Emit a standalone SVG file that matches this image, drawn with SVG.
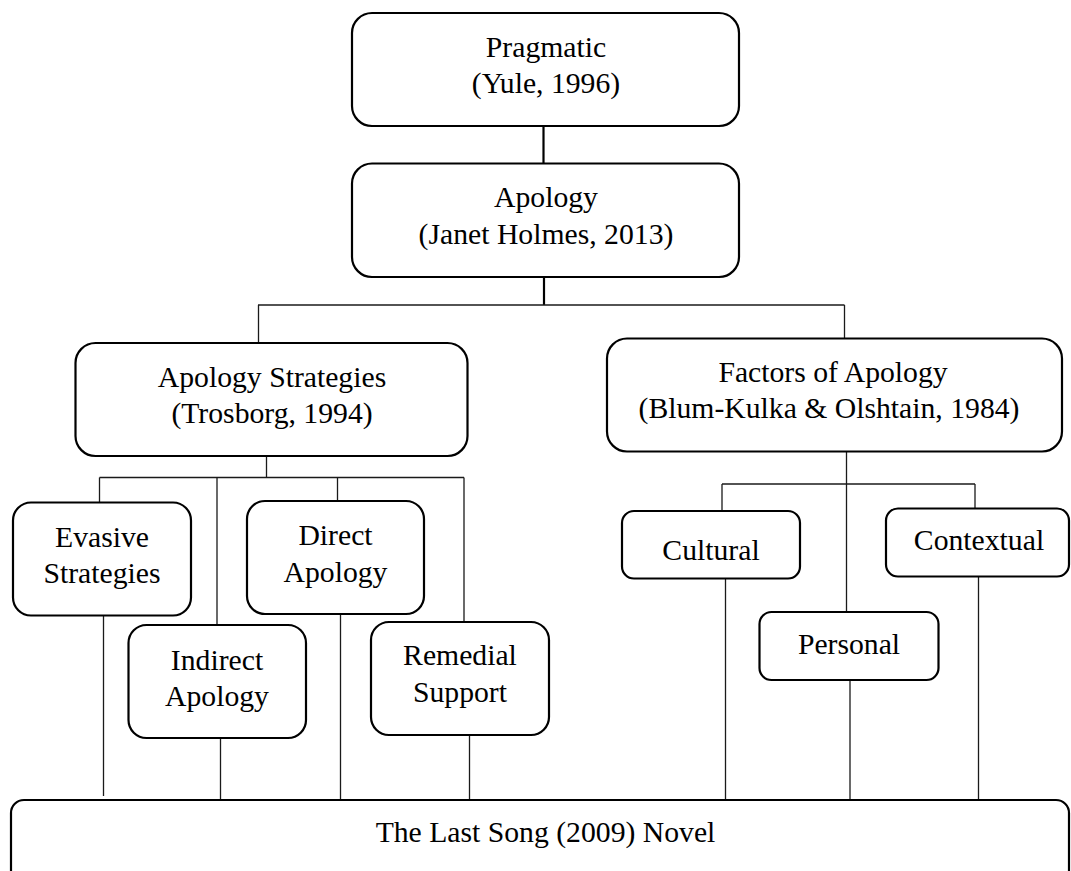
<svg xmlns="http://www.w3.org/2000/svg" width="1071" height="871" viewBox="0 0 1071 871">
<style>
  .box { fill: #fff; stroke: #000; stroke-width: 2.2; }
  .t { font-family: "Liberation Serif", "Times New Roman", serif; font-size: 29.7px; fill: #000; text-anchor: middle; }
  .c { stroke: #1a1a1a; stroke-width: 1.3; fill: none; }
  .ct { stroke: #000; stroke-width: 2.2; fill: none; }
</style>
<rect width="1071" height="871" fill="#fff"/>
<g id="connectors">
  <line class="ct" x1="543.5" y1="126" x2="543.5" y2="163"/>
  <line class="ct" x1="544" y1="277" x2="544" y2="305"/>
  <line class="c" x1="258" y1="305" x2="844.5" y2="305"/>
  <line class="c" x1="258.5" y1="305" x2="258.5" y2="343"/>
  <line class="c" x1="844.5" y1="305" x2="844.5" y2="338"/>
  <line class="c" x1="266.5" y1="456" x2="266.5" y2="477.5"/>
  <line class="c" x1="99.5" y1="477.5" x2="464" y2="477.5"/>
  <line class="c" x1="99.5" y1="477.5" x2="99.5" y2="502"/>
  <line class="c" x1="217" y1="477.5" x2="217" y2="625"/>
  <line class="c" x1="337.5" y1="477.5" x2="337.5" y2="501"/>
  <line class="c" x1="464" y1="477.5" x2="464" y2="622"/>
  <line class="c" x1="846.5" y1="452" x2="846.5" y2="612"/>
  <line class="c" x1="722" y1="484" x2="975" y2="484"/>
  <line class="c" x1="722" y1="484" x2="722" y2="511"/>
  <line class="c" x1="975" y1="484" x2="975" y2="508"/>
  <line class="c" x1="103.5" y1="616" x2="103.5" y2="796"/>
  <line class="c" x1="220.5" y1="738" x2="220.5" y2="800"/>
  <line class="c" x1="340.5" y1="614" x2="340.5" y2="800"/>
  <line class="c" x1="469.5" y1="735" x2="469.5" y2="800"/>
  <line class="c" x1="725.5" y1="578" x2="725.5" y2="804"/>
  <line class="c" x1="850" y1="680" x2="850" y2="803"/>
  <line class="c" x1="978.5" y1="577" x2="978.5" y2="800"/>
</g>
<g id="pragmatic">
  <rect class="box" x="352" y="13" width="387" height="113" rx="20"/>
  <text class="t" x="546" y="57">Pragmatic</text>
  <text class="t" x="546" y="93">(Yule, 1996)</text>
</g>
<g id="apology">
  <rect class="box" x="352" y="163.5" width="387" height="113.5" rx="20"/>
  <text class="t" x="546" y="207">Apology</text>
  <text class="t" x="546" y="244">(Janet Holmes, 2013)</text>
</g>
<g id="apology-strategies">
  <rect class="box" x="75.5" y="343" width="392" height="113" rx="20"/>
  <text class="t" x="272" y="386.5">Apology Strategies</text>
  <text class="t" x="272" y="423">(Trosborg, 1994)</text>
</g>
<g id="factors">
  <rect class="box" x="607" y="338.5" width="455" height="113" rx="20"/>
  <text class="t" x="833" y="381.5">Factors of Apology</text>
  <text class="t" x="829" y="418">(Blum-Kulka &amp; Olshtain, 1984)</text>
</g>
<g id="evasive">
  <rect class="box" x="13" y="502.5" width="178" height="113" rx="18"/>
  <text class="t" x="102" y="547">Evasive</text>
  <text class="t" x="102" y="583">Strategies</text>
</g>
<g id="direct">
  <rect class="box" x="247" y="501" width="177" height="113" rx="18"/>
  <text class="t" x="335.5" y="545">Direct</text>
  <text class="t" x="335.5" y="581.5">Apology</text>
</g>
<g id="indirect">
  <rect class="box" x="128.5" y="625" width="177.5" height="113" rx="18"/>
  <text class="t" x="217" y="670">Indirect</text>
  <text class="t" x="217" y="706">Apology</text>
</g>
<g id="remedial">
  <rect class="box" x="371" y="622" width="178" height="113" rx="18"/>
  <text class="t" x="460" y="665">Remedial</text>
  <text class="t" x="460" y="701.5">Support</text>
</g>
<g id="cultural">
  <rect class="box" x="622" y="511" width="178" height="67.5" rx="12"/>
  <text class="t" x="711" y="560">Cultural</text>
</g>
<g id="contextual">
  <rect class="box" x="886" y="508.5" width="183" height="68" rx="12"/>
  <text class="t" x="979" y="550">Contextual</text>
</g>
<g id="personal">
  <rect class="box" x="759.5" y="612" width="179" height="68" rx="12"/>
  <text class="t" x="849" y="653.5">Personal</text>
</g>
<g id="novel">
  <rect class="box" x="11" y="800" width="1058" height="95" rx="13"/>
  <text class="t" x="545.5" y="841.5">The Last Song (2009) Novel</text>
</g>
</svg>
